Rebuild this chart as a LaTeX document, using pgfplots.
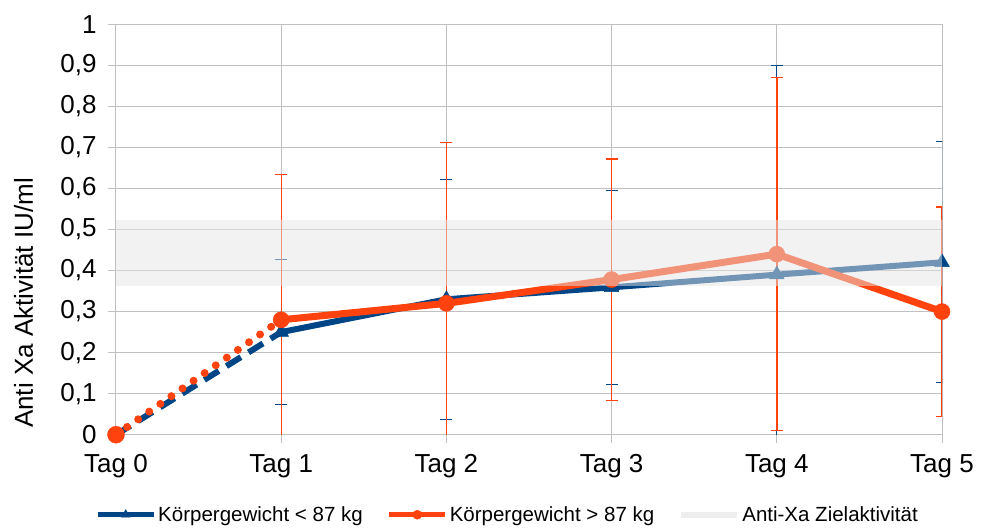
\documentclass[border=0pt]{standalone}
\usepackage{pgfplots}
\pgfplotsset{compat=1.18}
\usepackage{fontspec}
\setmainfont{Liberation Sans}
\definecolor{sblue}{RGB}{0,69,134}
\definecolor{sorange}{RGB}{255,66,14}
\definecolor{gridc}{RGB}{192,192,192}
\definecolor{bandc}{RGB}{229,229,229}
\definecolor{bandleg}{RGB}{238,238,238}
\pgfplotsset{mylegend/.style={legend image code/.code={\draw[mark repeat=2,mark phase=2,##1] plot coordinates {(0pt,0pt) (28pt,0pt) (56pt,0pt)};}}}
\begin{document}
\begin{tikzpicture}
\begin{axis}[
  scale only axis, width=826pt, height=410.4pt,
  xmin=0, xmax=5, ymin=0, ymax=1,
  xtick={0,1,2,3,4,5},
  xticklabels={Tag 0,Tag 1,Tag 2,Tag 3,Tag 4,Tag 5},
  ytick={0,0.1,0.2,0.3,0.4,0.5,0.6,0.7,0.8,0.9,1.0},
  /pgf/number format/.cd, use comma, fixed, precision=1, assume math mode=true, /pgfplots/.cd,
  grid=major, major grid style={gridc, line width=1pt},
  axis line style={gridc, line width=1pt},
  tick style={gridc, line width=1pt},
  tick align=outside, major tick length=8pt, tick pos=left,
  tick label style={font=\fontsize{26}{30}\selectfont},
  yticklabel style={xshift=-8pt},
  xticklabel style={yshift=-8pt},
  ylabel={Anti Xa Aktivität IU/ml},
  ylabel style={font=\fontsize{26}{30}\selectfont, at={(axis description cs:-0.112,0.321)}, anchor=center},
  legend style={at={(axis description cs:0.474,-0.195)}, anchor=center, draw=none, fill=none,
    font=\fontsize{20.5}{25}\selectfont, inner sep=0pt,
    /tikz/every even column/.append style={column sep=22pt}},
  legend columns=3, legend cell align=left,
]
\coordinate (O) at (rel axis cs:0,0);
% blue series
\addplot[sblue, line width=6pt, dash pattern=on 17pt off 9pt, forget plot] coordinates {(0,0) (1,0.25)};
\addplot[forget plot, sblue, line width=6pt, line join=round, mark=triangle*, mark size=8.5pt,
  mark options={solid, line width=0.5pt},
  error bars/.cd, y dir=both, y explicit,
  error bar style={line width=1pt, sblue, solid},
  error mark options={rotate=90, mark size=6pt, line width=1pt, sblue}]
  coordinates {(1,0.25) +- (0,0.177) (2,0.33) +- (0,0.293) (3,0.359) +- (0,0.236) (4,0.39) +- (0,0.509) (5,0.42) +- (0,0.294)};
\addplot[only marks, sblue, mark=triangle*, mark size=8.5pt, forget plot] coordinates {(0,0)};
% orange series
\addplot[sorange, line width=8pt, line cap=round, dash pattern=on 0pt off 13.5pt, forget plot] coordinates {(0,0) (1,0.28)};
\addplot[forget plot, sorange, line width=7pt, line join=round, mark=*, mark size=8pt,
  mark options={solid, line width=0.5pt},
  error bars/.cd, y dir=both, y explicit,
  error bar style={line width=1.4pt, sorange, solid},
  error mark options={rotate=90, mark size=6pt, line width=1.4pt, sorange}]
  coordinates {(1,0.28) +- (0,0.354) (2,0.32) +- (0,0.392) (3,0.378) +- (0,0.294) (4,0.44) +- (0,0.43) (5,0.30) +- (0,0.255)};
\addplot[only marks, sorange, mark=*, mark size=8.5pt, forget plot] coordinates {(0,0)};
% legend
\addlegendimage{mylegend, sblue, line width=5pt, mark=triangle*, mark options={solid, mark size=5pt, line width=0.5pt}}
\addlegendentry{Körpergewicht < 87 kg}
\addlegendimage{mylegend, sorange, line width=5pt, mark=*, mark options={solid, mark size=4.5pt, line width=0.5pt}}
\addlegendentry{Körpergewicht > 87 kg}
\addlegendimage{mylegend, bandleg, line width=6pt}
\addlegendentry{Anti-Xa Zielaktivität}
\end{axis}
% overlay axis holding the semi-transparent target band (drawn over lines and marks)
\begin{axis}[
  scale only axis, width=826pt, height=410.4pt,
  xmin=0, xmax=5, ymin=0, ymax=1,
  axis lines=none, ticks=none,
]
\addplot[draw=none, fill=bandc, fill opacity=0.5] coordinates {(0,0.363) (5,0.363) (5,0.523) (0,0.523)} -- cycle;
\end{axis}
\pgfresetboundingbox
\path[use as bounding box] (O) ++(-116pt,-93.3pt) rectangle ++(982pt,528pt);
\end{tikzpicture}
\end{document}
